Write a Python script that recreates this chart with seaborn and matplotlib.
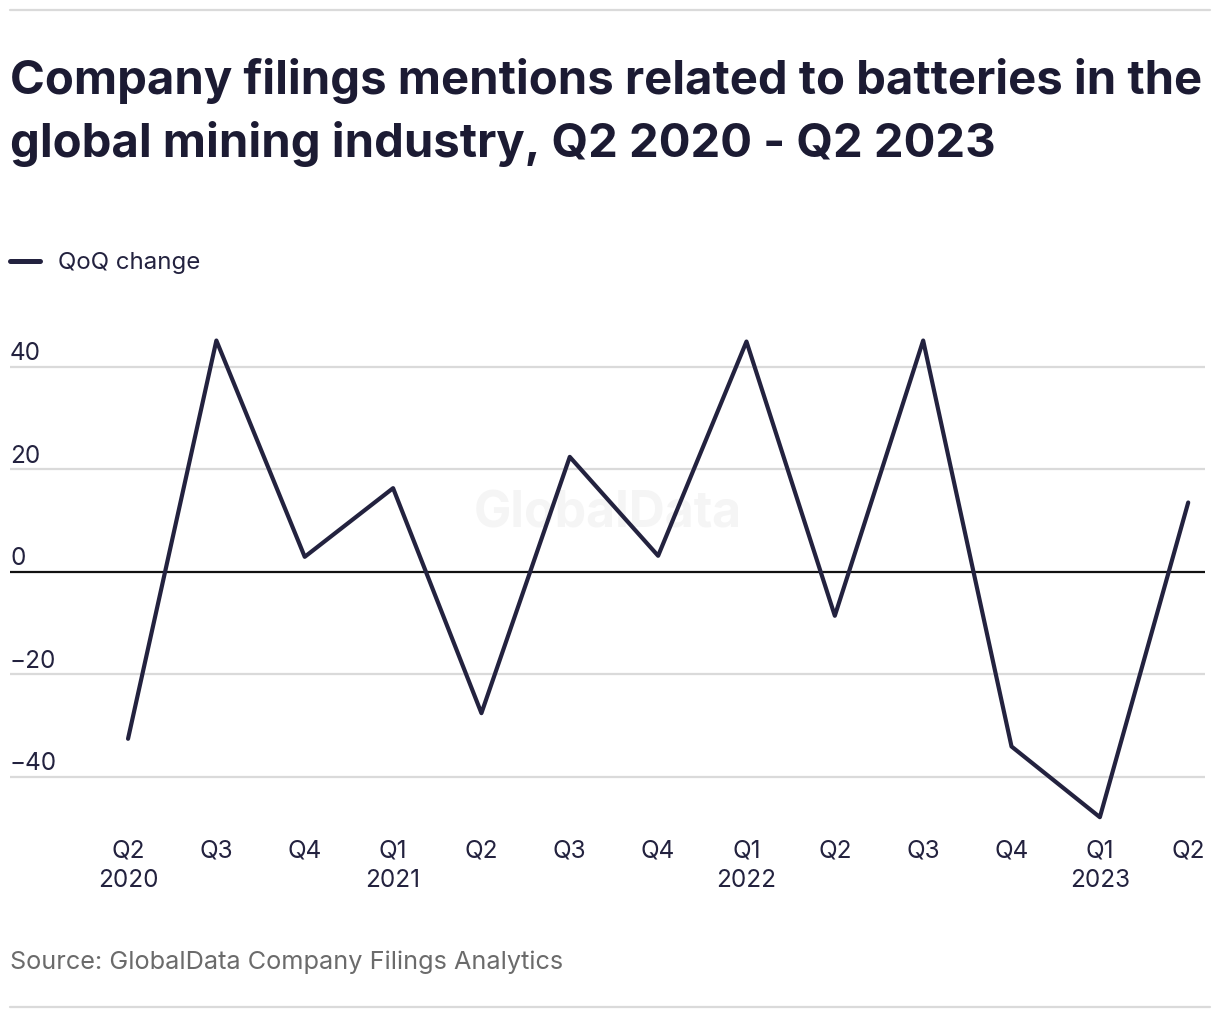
import matplotlib
matplotlib.use("Agg")
import matplotlib.pyplot as plt
import matplotlib.transforms as mtransforms
import pandas as pd
import seaborn as sns

# QoQ change in battery-related mentions, Q2 2020 .. Q2 2023
quarters = ["Q2", "Q3", "Q4", "Q1", "Q2", "Q3", "Q4",
            "Q1", "Q2", "Q3", "Q4", "Q1", "Q2"]
years = ["2020", "", "", "2021", "", "", "", "2022", "", "", "", "2023", ""]
qoq_change = [-32.6, 45.1, 2.9, 16.3, -27.6, 22.4, 3.1,
              44.9, -8.6, 45.1, -34.1, -47.9, 13.5]
y_ticks = [-40, -20, 0, 20, 40]

NAVY = "#23223f"
GRID = "#dadada"

df = pd.DataFrame({"idx": range(len(qoq_change)), "qoq": qoq_change})

sns.set_theme(style="white")
plt.rcParams["font.family"] = ["Inter", "DejaVu Sans"]

fig = plt.figure(figsize=(12.2, 10.2), dpi=100)
W, H = 1220, 1020
ax = fig.add_axes([10 / W, 1 - 830 / H, 1195 / W, 510 / H])

# watermark
ax.text(0.5, 0.62, "GlobalData", transform=ax.transAxes, ha="center",
        va="center", fontsize=36, fontweight="bold", color="#f5f5f5", zorder=0)

for v in y_ticks:
    if v == 0:
        ax.axhline(v, color="#111111", lw=1.6, zorder=2)
    else:
        ax.axhline(v, color=GRID, lw=1.6, zorder=1)

sns.lineplot(data=df, x="idx", y="qoq", ax=ax, color=NAVY, lw=3,
             zorder=3, legend=False)

ax.set_xlim(-1.336, 12.19)
ax.set_ylim(-50.2, 49.3)
for s in ax.spines.values():
    s.set_visible(False)
ax.set_xlabel("")
ax.set_ylabel("")

# y labels sit above their gridlines, left aligned
ax.set_yticks([])
trans = mtransforms.blended_transform_factory(ax.transAxes, ax.transData)
off = mtransforms.ScaledTranslation(0, 5.5 / 72, fig.dpi_scale_trans)
for v in y_ticks:
    ax.text(0, v, f"{v}".replace("-", "\u2212"), transform=trans + off,
            ha="left", va="baseline", fontsize=17.5, color=NAVY)

ax.set_xticks(df["idx"])
ax.set_xticklabels([f"{q}\n{y}" if y else q for q, y in zip(quarters, years)],
                   fontsize=17.5, color=NAVY, linespacing=1.35, va="top")
ax.tick_params(axis="x", length=0, pad=7)

# title, legend, source and rules
fig.text(10 / W, 1 - 94 / H, "Company filings mentions related to batteries in the",
         fontsize=34, fontweight="bold", color="#1c1b33", ha="left", va="baseline")
fig.text(10 / W, 1 - 157 / H, "global mining industry, Q2 2020 - Q2 2023",
         fontsize=34, fontweight="bold", color="#1c1b33", ha="left", va="baseline")

fig.add_artist(plt.Line2D([10 / W, 40 / W], [1 - 262 / H] * 2, color=NAVY, lw=3.6))
fig.text(58 / W, 1 - 263 / H, "QoQ change", fontsize=17.3, color=NAVY,
         ha="left", va="center")

fig.text(10 / W, 1 - 962 / H, "Source: GlobalData Company Filings Analytics",
         fontsize=18.2, color="#6b6b6b", ha="left", va="center")

fig.add_artist(plt.Line2D([10 / W, 1210 / W], [1 - 11 / H] * 2, color=GRID, lw=1.6))
fig.add_artist(plt.Line2D([10 / W, 1210 / W], [1 - 1008 / H] * 2, color=GRID, lw=1.6))

fig.savefig("out.png", dpi=100, facecolor="white")
